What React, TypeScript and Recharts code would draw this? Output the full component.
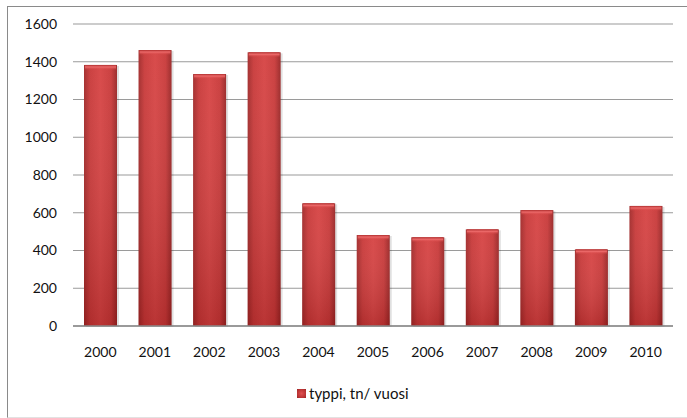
import React from "react";
import { BarChart, Bar, XAxis, YAxis, CartesianGrid } from "recharts";

const years = ["2000", "2001", "2002", "2003", "2004", "2005", "2006", "2007", "2008", "2009", "2010"];
const typpi = [1383, 1462, 1335, 1450, 650, 482, 470, 512, 614, 406, 636];
const yTicks = [0, 200, 400, 600, 800, 1000, 1200, 1400, 1600];
const seriesName = "typpi, tn/ vuosi";

const data = years.map((year, i) => ({ year, typpi: typpi[i] }));

const FONT = "Lato, 'Open Sans', sans-serif";

// bar with a soft shadow, a rounded-looking body and a light top bevel
function BevelBar(props: any) {
  const { x, y, width, height } = props;
  if (!height || height <= 0) return null;
  return (
    <g>
      <rect x={x + 2} y={y + 1} width={width} height={height} fill="#000" opacity={0.12} />
      <rect x={x} y={y} width={width} height={height} fill="url(#barBody)" />
      <rect x={x} y={y} width={width} height={height} fill="url(#barShade)" />
      <rect x={x + 1} y={y} width={width - 2} height={5} fill="url(#barTop)" />
    </g>
  );
}

export default function App() {
  return (
    <div style={{ position: "absolute", left: 0, top: 0, width: 687, height: 418, background: "#fff", fontFamily: FONT }}>
      <div
        style={{
          position: "absolute",
          left: 7,
          top: 6,
          width: 700,
          height: 410,
          borderTop: "1px solid #8a8a8a",
          borderLeft: "1px solid #8a8a8a",
          borderBottom: "1px solid #e2e2e2",
        }}
      />
      <div style={{ position: "absolute", left: 0, top: 0 }}>
        <BarChart width={687} height={418} data={data} margin={{ top: 24, right: 14, left: 0, bottom: 62 }}>
          <defs>
            <linearGradient id="barBody" x1="0" y1="0" x2="1" y2="0">
              <stop offset="0%" stopColor="#a02828" />
              <stop offset="18%" stopColor="#c83838" />
              <stop offset="50%" stopColor="#d64242" />
              <stop offset="82%" stopColor="#c83838" />
              <stop offset="100%" stopColor="#982424" />
            </linearGradient>
            <linearGradient id="barShade" x1="0" y1="0" x2="0" y2="1">
              <stop offset="0%" stopColor="#ffffff" stopOpacity={0.05} />
              <stop offset="100%" stopColor="#4a0000" stopOpacity={0.2} />
            </linearGradient>
            <linearGradient id="barTop" x1="0" y1="0" x2="0" y2="1">
              <stop offset="0%" stopColor="#b02e2e" />
              <stop offset="40%" stopColor="#ec6a6a" />
              <stop offset="100%" stopColor="#d84444" stopOpacity={0} />
            </linearGradient>
          </defs>
          <CartesianGrid vertical={false} stroke="#9a9a9a" strokeWidth={1.2} />
          <XAxis
            dataKey="year"
            height={30}
            tickLine={false}
            tickMargin={15}
            axisLine={{ stroke: "#8a8a8a", strokeWidth: 1.5 }}
            tick={{ fill: "#111", fontSize: 14, fontFamily: FONT }}
            interval={0}
          />
          <YAxis
            width={73}
            domain={[0, 1600]}
            ticks={yTicks}
            axisLine={false}
            tickLine={false}
            tickMargin={10}
            tick={{ fill: "#111", fontSize: 14, fontFamily: FONT }}
          />
          <Bar dataKey="typpi" name={seriesName} barSize={33} shape={BevelBar} isAnimationActive={false} />
        </BarChart>
      </div>
      <div
        style={{
          position: "absolute",
          left: 297,
          top: 383,
          height: 20,
          display: "flex",
          alignItems: "center",
          fontSize: 15,
          color: "#111",
          fontFamily: FONT,
        }}
      >
        <span
          style={{
            display: "inline-block",
            width: 9,
            height: 9,
            marginRight: 3,
            background: "radial-gradient(circle, #e05050 0%, #b83232 70%, #962626 100%)",
          }}
        />
        <span>{seriesName}</span>
      </div>
    </div>
  );
}
